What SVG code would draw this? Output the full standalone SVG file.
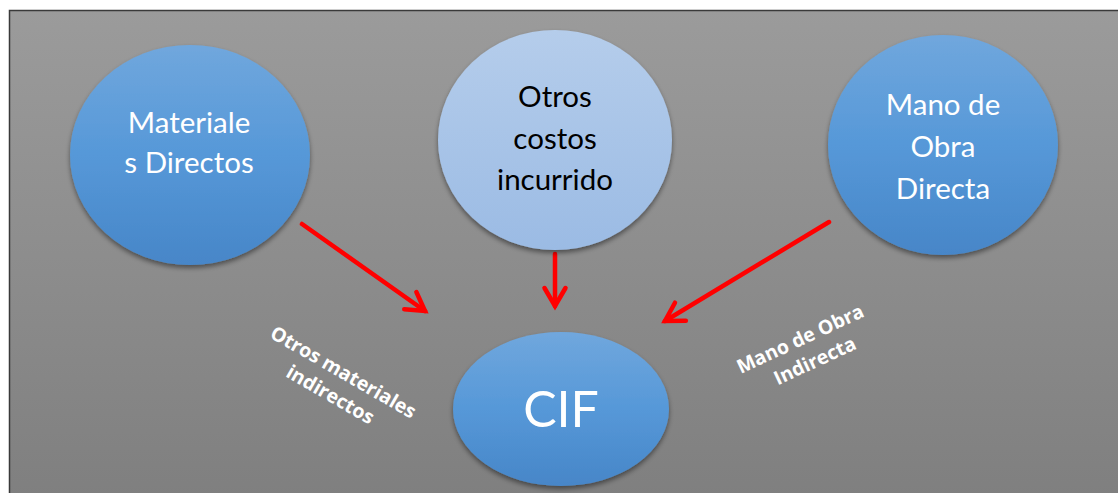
<svg xmlns="http://www.w3.org/2000/svg" width="1118" height="493" viewBox="0 0 1118 493">
<defs>
<linearGradient id="bg" x1="0" y1="0" x2="0" y2="1">
<stop offset="0" stop-color="#9b9b9b"/>
<stop offset="1" stop-color="#7f7f7f"/>
</linearGradient>
<linearGradient id="blue" x1="0" y1="0" x2="0" y2="1">
<stop offset="0" stop-color="#70a7dd"/>
<stop offset="0.5" stop-color="#5698d8"/>
<stop offset="1" stop-color="#4786c8"/>
</linearGradient>
<linearGradient id="light" x1="0" y1="0" x2="0" y2="1">
<stop offset="0" stop-color="#b5cdeb"/>
<stop offset="1" stop-color="#9bbbe4"/>
</linearGradient>
<filter id="sh" x="-10%" y="-10%" width="120%" height="125%">
<feGaussianBlur in="SourceAlpha" stdDeviation="2.5"/>
<feOffset dx="0" dy="3" result="b"/>
<feComponentTransfer><feFuncA type="linear" slope="0.45"/></feComponentTransfer>
<feMerge><feMergeNode/><feMergeNode in="SourceGraphic"/></feMerge>
</filter>
<marker id="ah" viewBox="0 0 24 24" refX="22" refY="12" markerWidth="24" markerHeight="24" markerUnits="userSpaceOnUse" orient="auto" overflow="visible">
<path d="M4,1.5 L22,12 L4,22.5" fill="none" stroke="#ff0000" stroke-width="4.5" stroke-linecap="round" stroke-linejoin="miter"/>
</marker>
</defs>
<style>
.nt{font-family:Lato,"Open Sans",sans-serif;font-size:29.5px;fill:#ffffff;text-anchor:middle}
.dk{fill:#000000}
.lb{font-family:"Open Sans",Lato,sans-serif;font-size:19.5px;font-weight:bold;fill:#ffffff;text-anchor:middle}
.ar{stroke:#ff0000;stroke-width:4.5;fill:none;stroke-linecap:round}
</style>
<rect x="0" y="0" width="1118" height="493" fill="#ffffff"/>
<rect x="9.5" y="10.5" width="1115" height="490" fill="url(#bg)" stroke="#3a3a3a" stroke-width="1.5"/>
<g id="connectors">
<path class="ar" d="M302,224 L425,311" marker-end="url(#ah)"/>
<path class="ar" d="M555,254 L555,306" marker-end="url(#ah)"/>
<path class="ar" d="M829,222 L665,321" marker-end="url(#ah)"/>
</g>
<g id="materiales">
<ellipse cx="190" cy="155" rx="120" ry="110" fill="url(#blue)" filter="url(#sh)"/>
<text class="nt" x="189" y="133">Materiale</text>
<text class="nt" x="189" y="173">s Directos</text>
</g>
<g id="otros">
<ellipse cx="555" cy="140" rx="117" ry="110" fill="url(#light)" filter="url(#sh)"/>
<text class="nt dk" x="555" y="107">Otros</text>
<text class="nt dk" x="555" y="149">costos</text>
<text class="nt dk" x="555" y="190">incurrido</text>
</g>
<g id="mano">
<ellipse cx="943" cy="145" rx="115" ry="110" fill="url(#blue)" filter="url(#sh)"/>
<text class="nt" x="943" y="115">Mano de</text>
<text class="nt" x="943" y="157">Obra</text>
<text class="nt" x="943" y="199">Directa</text>
</g>
<g id="cif">
<ellipse cx="561" cy="409" rx="108" ry="77" fill="url(#blue)" filter="url(#sh)"/>
<text class="nt" x="561" y="427" style="font-size:50px">CIF</text>
</g>
<g id="label-otros">
<text class="lb" transform="translate(340,378) rotate(30)" x="0" y="0">Otros materiales</text>
<text class="lb" transform="translate(340,378) rotate(30)" x="0" y="26">indirectos</text>
</g>
<g id="label-mano">
<text class="lb" transform="translate(803,345) rotate(-25)" x="0" y="0">Mano de Obra</text>
<text class="lb" transform="translate(803,345) rotate(-25)" x="4" y="26">Indirecta</text>
</g>
</svg>
